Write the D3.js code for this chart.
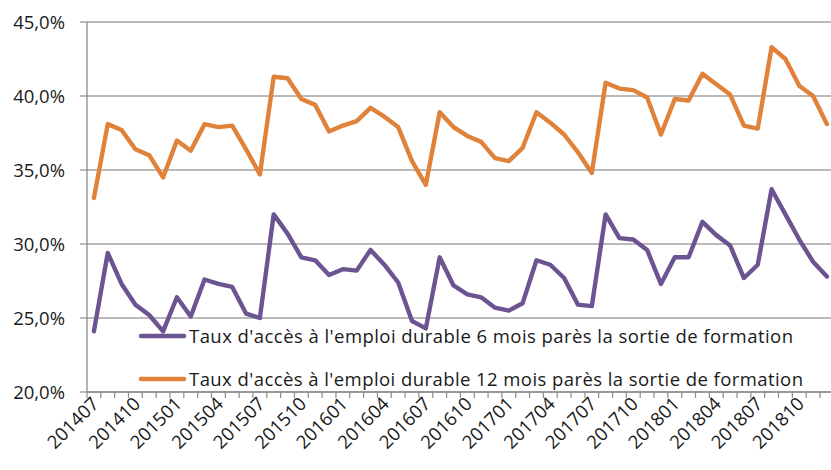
<!DOCTYPE html>
<html><head><meta charset="utf-8">
<script src="https://cdn.jsdelivr.net/npm/d3@7/dist/d3.min.js"></script>
<style>body{margin:0;background:#fff}svg{display:block}text{font-family:"Open Sans",sans-serif;fill:#1a1a1a}</style>
</head><body><svg id="c" width="831" height="470"></svg>
<script>
const months = ["201407","201408","201409","201410","201411","201412",
"201501","201502","201503","201504","201505","201506","201507","201508","201509","201510","201511","201512",
"201601","201602","201603","201604","201605","201606","201607","201608","201609","201610","201611","201612",
"201701","201702","201703","201704","201705","201706","201707","201708","201709","201710","201711","201712",
"201801","201802","201803","201804","201805","201806","201807","201808","201809","201810","201811","201812"];
const taux6 = [24.1,29.4,27.3,25.9,25.2,24.1,26.4,25.1,27.6,27.3,27.1,25.3,25.0,32.0,30.7,29.1,28.9,27.9,28.3,28.2,29.6,28.6,27.4,24.8,24.3,29.1,27.2,26.6,26.4,25.7,25.5,26.0,28.9,28.6,27.7,25.9,25.8,32.0,30.4,30.3,29.6,27.3,29.1,29.1,31.5,30.6,29.9,27.7,28.6,33.7,32.0,30.3,28.8,27.8];
const taux12 = [33.1,38.1,37.7,36.4,36.0,34.5,37.0,36.3,38.1,37.9,38.0,36.4,34.7,41.3,41.2,39.8,39.4,37.6,38.0,38.3,39.2,38.6,37.9,35.6,34.0,38.9,37.9,37.3,36.9,35.8,35.6,36.5,38.9,38.2,37.4,36.2,34.8,40.9,40.5,40.4,39.9,37.4,39.8,39.7,41.5,40.8,40.1,38.0,37.8,43.3,42.5,40.7,40.0,38.1];
const yTicks = [20,25,30,35,40,45];
const seriesNames = ["Taux d'accès à l'emploi durable 6 mois parès la sortie de formation",
                     "Taux d'accès à l'emploi durable 12 mois parès la sortie de formation"];
const colors = ["#6B5491","#E0823A"];

const svg = d3.select("#c");
const mLeft = 87, mTop = 22, mBottom = 392, step = 13.83;
const x = d3.scaleBand().domain(months).range([mLeft, mLeft + step*months.length]).padding(0);
const y = d3.scaleLinear().domain([20,45]).range([mBottom, mTop]);
const mRight = x.range()[1];
const fmt = v => d3.format(".1f")(v).replace(".", ",") + "%";

// gridlines
svg.append("g").selectAll("line").data(yTicks).join("line")
  .attr("x1", mLeft-7).attr("x2", mRight).attr("y1", d=>y(d)).attr("y2", d=>y(d))
  .attr("stroke", "#a3a3a3").attr("stroke-width", 1.3);
// y labels
svg.append("g").selectAll("text").data(yTicks).join("text")
  .attr("x", 65).attr("y", d=>y(d)).attr("dy","0.36em").attr("text-anchor","end")
  .attr("font-size", 18.5).text(fmt);
// y axis line
svg.append("line").attr("x1",mLeft).attr("x2",mLeft).attr("y1",mTop).attr("y2",mBottom)
  .attr("stroke","#8c8c8c").attr("stroke-width",1.3);
// x tick marks at category boundaries
svg.append("g").selectAll("line").data(months.concat(["end"])).join("line")
  .attr("x1", d=> d==="end"? mRight : x(d)).attr("x2", d=> d==="end"? mRight : x(d))
  .attr("y1", mBottom).attr("y2", mBottom+6).attr("stroke","#8c8c8c").attr("stroke-width",1.2);
svg.append("line").attr("x1",mLeft).attr("x2",mRight).attr("y1",mBottom).attr("y2",mBottom)
  .attr("stroke","#8c8c8c").attr("stroke-width",1.3);
// x labels
svg.append("g").selectAll("text").data(months.filter((d,i)=>i%3===0)).join("text")
  .attr("transform", d=>`translate(${x(d)+x.bandwidth()/2+6},${mBottom+13}) rotate(-45)`)
  .attr("text-anchor","end").attr("font-size",18.5).text(d=>d);

// lines
const line = d3.line().x((d,i)=>x(months[i])+x.bandwidth()/2).y(d=>y(d));
[taux6, taux12].forEach((s,k)=>{
  svg.append("path").datum(s).attr("d", line).attr("fill","none")
    .attr("stroke", colors[k]).attr("stroke-width", 4.4)
    .attr("stroke-linejoin","round").attr("stroke-linecap","round");
});

// legend
const legY = [336, 379];
const legW = [604, 614];
seriesNames.forEach((n,k)=>{
  svg.append("line").attr("x1",141).attr("x2",184).attr("y1",legY[k]).attr("y2",legY[k])
    .attr("stroke",colors[k]).attr("stroke-width",4.5).attr("stroke-linecap","round");
  svg.append("text").attr("x",189).attr("y",legY[k]).attr("dy","0.36em")
    .attr("font-size",18.5).attr("textLength", legW[k]).attr("lengthAdjust","spacing").text(n);
});
</script></body></html>
